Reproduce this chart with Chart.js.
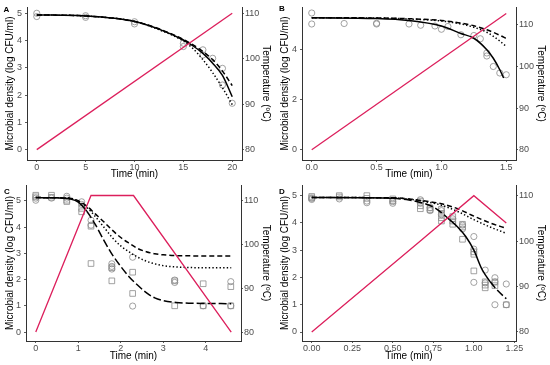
<!DOCTYPE html>
<html>
<head>
<meta charset="utf-8">
<script src="https://cdn.jsdelivr.net/npm/chart.js@4.4.0/dist/chart.umd.min.js"></script>
<style>
  html, body { margin: 0; padding: 0; background: #fff; }
  #wrap { position: relative; width: 550px; height: 365px; }
  canvas { position: absolute; }
</style>
</head>
<body>
<div id="wrap">
  <canvas id="pA" style="left:0;top:0;width:275px;height:180px" width="275" height="180"></canvas>
  <canvas id="pB" style="left:275px;top:0;width:275px;height:180px" width="275" height="180"></canvas>
  <canvas id="pC" style="left:0;top:180px;width:275px;height:185px" width="275" height="185"></canvas>
  <canvas id="pD" style="left:275px;top:180px;width:275px;height:185px" width="275" height="185"></canvas>
</div>
<script>
/* ---------- data ---------- */
const tempTicks = [80, 90, 100, 110];

// A
const aXTicks = [0, 5, 10, 15, 20];
const aYTicks = [0, 1, 2, 3, 4, 5];
const aCircles = [[0,5.0],[0,4.88],[5,4.91],[5,4.85],[10,4.69],[10,4.61],[15,3.9],[15,3.78],
  [17,3.66],[17,3.47],[18,3.35],[19,2.98],[19,2.37],[20,1.70]];
const aSolid  = [[0,4.94],[5,4.9],[10,4.7],[12.5,4.42],[15,4.02],[16,3.8],[17,3.53],[18,3.17],[19,2.72],[20,1.94]];
const aDashed = [[0,4.94],[5,4.9],[10,4.7],[12.5,4.43],[15,4.04],[16,3.84],[17,3.6],[18,3.3],[19,2.88],[20,2.35]];
const aDotted = [[0,4.94],[5,4.9],[10,4.7],[12.5,4.4],[15,3.98],[16,3.7],[17,3.3],[18,2.82],[19,2.27],[20,1.65]];
const aTemp   = [[0,80],[20,110]];

// B
const bXTicks = [0, 0.5, 1.0, 1.5];
const bYTicks = [0, 2, 4];
const bCircles = [[0,5.47],[0,5.03],[0.25,5.05],[0.5,5.03],[0.5,5.06],[0.75,5.03],[0.84,4.98],[0.95,4.95],
  [1.0,4.82],[1.05,4.93],[1.15,4.6],[1.25,4.57],[1.3,4.44],[1.35,3.87],[1.35,3.75],[1.4,3.33],[1.45,3.07],[1.5,3.0]];
const bSolid  = [[0,5.28],[0.5,5.25],[0.75,5.17],[1.0,4.95],[1.15,4.65],[1.25,4.46],[1.35,4.0],[1.4,3.66],[1.45,3.2],[1.48,2.87]];
const bDashed = [[0,5.28],[0.5,5.27],[0.75,5.24],[1.0,5.17],[1.15,5.07],[1.25,4.96],[1.35,4.8],[1.45,4.58],[1.5,4.45]];
const bDotted = [[0,5.28],[0.5,5.27],[0.75,5.23],[1.0,5.15],[1.15,5.03],[1.25,4.9],[1.35,4.7],[1.45,4.35],[1.5,4.13]];
const bTemp   = [[0,80],[1.5,112.7]];

// C
const cXTicks = [0, 1, 2, 3, 4];
const cYTicks = [0, 1, 2, 3, 4, 5];
const cCircles = [[0,5.1],[0,5.02],[0.37,5.1],[0.73,5.17],[0.73,5.1],[1.08,4.96],[1.08,4.86],[1.3,4.26],[1.3,4.07],
  [1.79,2.6],[1.79,2.5],[1.79,2.4],[2.28,2.85],[2.28,0.99],[3.27,1.98],[3.27,1.89],[3.94,1.0],[4.59,1.92],[4.59,1.0]];
const cSquares = [[0,5.21],[0,5.15],[0.37,5.21],[0.37,5.13],[0.73,5.02],[0.73,4.97],[1.08,4.71],[1.08,4.58],[1.3,4.03],[1.3,2.61],
  [1.79,2.45],[1.79,1.95],[2.28,2.28],[2.28,1.47],[3.27,1.95],[3.27,1.0],[3.94,1.84],[3.94,1.0],[4.59,1.73],[4.59,1.0]];
const cLower  = [[0,5.12],[0.5,5.11],[0.8,5.07],[1.0,4.95],[1.2,4.6],[1.4,4.1],[1.6,3.5],[1.8,2.95],[2.0,2.5],[2.2,2.1],
  [2.4,1.78],[2.6,1.5],[2.8,1.3],[3.0,1.2],[3.3,1.13],[3.6,1.1],[4.0,1.09],[4.6,1.08]];
const cDashed = [[0,5.12],[0.8,5.1],[1.0,5.0],[1.2,4.8],[1.4,4.5],[1.6,4.2],[1.8,3.88],[2.0,3.6],[2.2,3.38],[2.4,3.18],
  [2.6,3.06],[2.8,2.98],[3.0,2.94],[3.3,2.91],[4.0,2.9],[4.6,2.9]];
const cDotted = [[0,5.12],[0.8,5.1],[1.0,4.98],[1.2,4.75],[1.4,4.4],[1.6,4.0],[1.8,3.6],[2.0,3.28],[2.2,3.05],[2.4,2.85],
  [2.6,2.7],[2.8,2.6],[3.0,2.53],[3.3,2.48],[4.0,2.45],[4.6,2.45]];
const cTemp   = [[0,80],[1.3,111.2],[2.3,111.2],[4.6,80]];

// D
const dXTicks = [0, 0.25, 0.5, 0.75, 1.0, 1.25];
const dYTicks = [0, 1, 2, 3, 4, 5];
const dCircles = [[0,4.9],[0,4.86],[0.17,4.88],[0.34,4.8],[0.34,4.74],[0.5,4.72],[0.5,4.78],[0.67,4.85],[0.67,4.73],
  [0.73,4.56],[0.73,4.45],[0.8,4.3],[0.8,4.45],[0.87,4.15],[0.93,3.92],[0.93,3.78],[1.0,3.5],[1.0,3.04],[1.0,1.82],
  [1.07,2.27],[1.07,1.8],[1.13,1.99],[1.13,1.84],[1.13,1.0],[1.2,1.76],[1.2,1.0]];
const dSquares = [[0,4.97],[0,4.92],[0.17,5.0],[0.17,4.95],[0.34,5.0],[0.34,4.9],[0.5,4.88],[0.5,4.82],[0.67,4.8],[0.67,4.63],
  [0.67,4.52],[0.73,4.55],[0.73,4.48],[0.8,4.5],[0.8,4.35],[0.8,4.19],[0.8,4.07],[0.87,4.23],[0.87,4.07],[0.87,3.95],
  [0.93,3.95],[0.93,3.85],[0.93,3.4],[1.0,2.94],[1.0,2.85],[1.0,2.24],[1.07,1.84],[1.07,1.72],[1.07,1.62],[1.13,1.83],
  [1.13,1.7],[1.2,1.0]];
const dLower  = [[0,4.93],[0.3,4.92],[0.5,4.9],[0.6,4.84],[0.7,4.7],[0.75,4.58],[0.8,4.38],[0.85,4.12],[0.9,3.85],
  [0.95,3.5],[1.0,3.0],[1.05,2.3],[1.1,1.85],[1.15,1.5],[1.2,1.22]];
const dDashed = [[0,4.93],[0.5,4.92],[0.6,4.88],[0.7,4.8],[0.8,4.7],[0.9,4.52],[1.0,4.25],[1.1,4.0],[1.2,3.8]];
const dDotted = [[0,4.93],[0.5,4.92],[0.6,4.87],[0.7,4.78],[0.8,4.65],[0.9,4.42],[1.0,4.12],[1.1,3.85],[1.2,3.62]];
const dTemp   = [[0,80],[0.67,100],[1.0,110],[1.2,104]];

/* ---------- styling ---------- */
const RED = '#dc1f5c';
const GREY = '#8a8a8a';
const AXIS = '#333';
const FAM = '"Liberation Sans", Arial, Helvetica, sans-serif';
const tickFont = { family: FAM, size: 9 };
const xTickFont = { family: FAM, size: 9, lineHeight: 1 };
const titleFont = { family: FAM, size: 10 };
const DASH = [5, 3], DOT = [1.4, 2.2], LONG = [8, 3];

const panelLabel = {
  id: 'panelLabel',
  afterDraw(chart, args, opts) {
    const c = chart.ctx;
    c.save();
    c.font = 'bold 8px ' + FAM;
    c.fillStyle = '#000';
    c.textBaseline = 'middle';
    c.fillText(opts.text, opts.x, opts.y);
    c.restore();
  }
};

function xy(arr) { return arr.map(p => ({ x: p[0], y: p[1] })); }

function axisGrid() {
  return { drawOnChartArea: false, drawTicks: true, tickLength: 2, color: AXIS, lineWidth: 0.8 };
}

function makePanel(id, o) {
  const datasets = [];
  datasets.push({ data: xy(o.temp), yAxisID: 'yT', showLine: true, borderColor: RED,
    borderWidth: 1.3, pointRadius: 0, tension: 0 });
  o.curves.forEach(c => {
    const ds = { data: xy(c.data), yAxisID: 'y', showLine: true, borderColor: '#000',
      borderWidth: 1.5, borderDash: c.dash || [], pointRadius: 0, cubicInterpolationMode: 'monotone' };
    if (c.seg) ds.segment = { borderDash: c.seg };
    datasets.push(ds);
  });
  if (o.squares) datasets.push({ data: xy(o.squares), yAxisID: 'y', pointStyle: 'rect', pointRadius: 4,
    borderColor: GREY, borderWidth: 0.8, backgroundColor: 'rgba(0,0,0,0)' });
  datasets.push({ data: xy(o.circles), yAxisID: 'y', pointStyle: 'circle', pointRadius: 3.1,
    borderColor: GREY, borderWidth: 0.8, backgroundColor: 'rgba(0,0,0,0)' });

  const noPad = s => { s.paddingTop = 0; s.paddingBottom = 0; s.paddingLeft = 0; s.paddingRight = 0; };

  new Chart(document.getElementById(id), {
    type: 'scatter',
    data: { datasets },
    plugins: [panelLabel],
    options: {
      responsive: false, animation: false, devicePixelRatio: 1,
      layout: { padding: { top: o.top, left: 0, right: 0, bottom: 0 } },
      plugins: { legend: { display: false }, tooltip: { enabled: false },
        panelLabel: { text: o.label, x: o.lx, y: o.ly } },
      scales: {
        x: {
          type: 'linear', position: 'bottom', min: o.xMin, max: o.xMax,
          afterBuildTicks: s => { s.ticks = o.xTicks.map(v => ({ value: v })); },
          ticks: { callback: v => v.toFixed(o.xDec), font: xTickFont, color: '#4d4d4d', padding: 1,
            maxRotation: 0, autoSkip: false },
          grid: axisGrid(), border: { color: AXIS, width: 1 },
          title: { display: true, text: 'Time (min)', font: titleFont, color: '#000',
            padding: { top: 0, bottom: o.xTitlePad } },
          afterFit: s => { s.height = o.xH; noPad(s); }
        },
        y: {
          type: 'linear', position: 'left', min: o.yMin, max: o.yMax,
          afterBuildTicks: s => { s.ticks = o.yTicks.map(v => ({ value: v })); },
          ticks: { font: tickFont, color: '#4d4d4d', padding: 3, autoSkip: false },
          grid: axisGrid(), border: { color: AXIS, width: 1 },
          title: { display: true, text: 'Microbial density (log CFU/ml)', font: titleFont, color: '#000',
            padding: { top: 4, bottom: 0 } },
          afterFit: s => { s.width = o.leftW; noPad(s); }
        },
        yT: {
          type: 'linear', position: 'right', min: 80 + 6 * o.yMin, max: 80 + 6 * o.yMax,
          afterBuildTicks: s => { s.ticks = tempTicks.map(v => ({ value: v })); },
          ticks: { font: tickFont, color: '#4d4d4d', padding: 1, autoSkip: false },
          grid: axisGrid(), border: { color: AXIS, width: 1 },
          title: { display: true, text: 'Temperature (ºC)', font: titleFont, color: '#000',
            padding: { top: 3, bottom: 0 } },
          afterFit: s => { s.width = o.rightW; noPad(s); }
        }
      }
    }
  });
}

makePanel('pA', {
  label: 'A', lx: 3.5, ly: 9.5, top: 7, xH: 20, xTitlePad: 0, leftW: 27, rightW: 33,
  xMin: -1, xMax: 21, xTicks: aXTicks, xDec: 0, yMin: -0.38, yMax: 5.23, yTicks: aYTicks,
  temp: aTemp, circles: aCircles,
  curves: [{ data: aSolid }, { data: aDashed, dash: DASH }, { data: aDotted, dash: DOT }]
});
makePanel('pB', {
  label: 'B', lx: 4, ly: 9, top: 7, xH: 20, xTitlePad: 0, leftW: 27, rightW: 34,
  xMin: -0.075, xMax: 1.575, xTicks: bXTicks, xDec: 1, yMin: -0.41, yMax: 5.71, yTicks: bYTicks,
  temp: bTemp, circles: bCircles,
  curves: [{ data: bSolid }, { data: bDashed, dash: DASH }, { data: bDotted, dash: DOT }]
});
makePanel('pC', {
  label: 'C', lx: 4, ly: 11.5, top: 5, xH: 24, xTitlePad: 3, leftW: 26, rightW: 34,
  xMin: -0.23, xMax: 4.83, xTicks: cXTicks, xDec: 0, yMin: -0.34, yMax: 5.6, yTicks: cYTicks,
  temp: cTemp, circles: cCircles, squares: cSquares,
  curves: [
    { data: cLower, seg: ctx => ctx.p0.parsed.x >= 1.1 ? LONG : undefined },
    { data: cDashed, dash: DASH }, { data: cDotted, dash: DOT }]
});
makePanel('pD', {
  label: 'D', lx: 4, ly: 11.5, top: 5, xH: 24, xTitlePad: 3, leftW: 27, rightW: 34,
  xMin: -0.06, xMax: 1.26, xTicks: dXTicks, xDec: 2, yMin: -0.33, yMax: 5.39, yTicks: dYTicks,
  temp: dTemp, circles: dCircles, squares: dSquares,
  curves: [
    { data: dLower, seg: ctx => { const x = ctx.p0.parsed.x; return (x >= 0.5 && x < 0.85) || x >= 1.1 ? LONG : undefined; } },
    { data: dDashed, dash: DASH }, { data: dDotted, dash: DOT }]
});
</script>
</body>
</html>
